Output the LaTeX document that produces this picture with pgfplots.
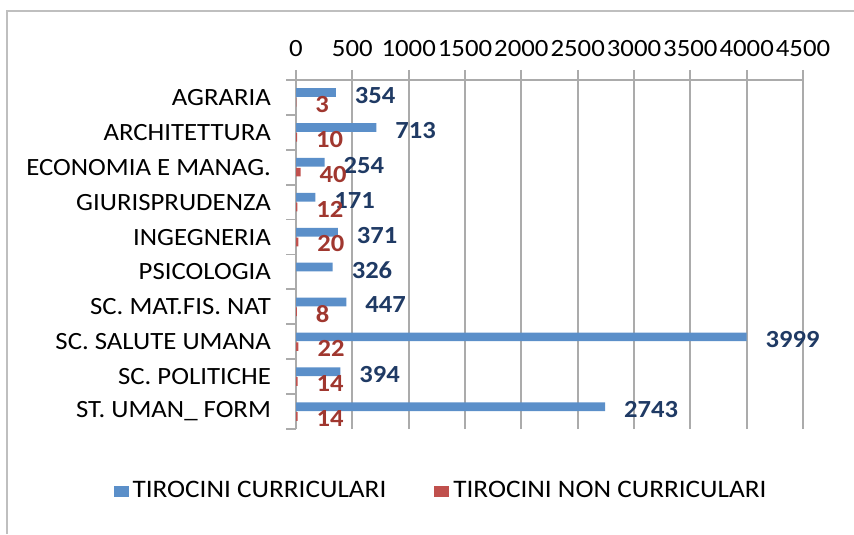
\documentclass[border=0pt]{standalone}
\usepackage{fontspec}
\setmainfont[FakeStretch=1.08]{Carlito}
\usepackage{pgfplots}
\pgfplotsset{compat=1.18}
\definecolor{barBlue}{HTML}{5B8FC9}
\definecolor{barRed}{HTML}{C0504D}
\definecolor{lblBlue}{HTML}{1F3A64}
\definecolor{lblRed}{HTML}{A0372F}
\definecolor{gridGray}{HTML}{ABABAB}
\definecolor{frameGray}{HTML}{BFBFBF}

\begin{document}
\begin{tikzpicture}
\path[use as bounding box] (0,0) rectangle (427pt,267pt);
\draw[frameGray, line width=1pt] (3.5pt,0) -- (3.5pt,261.5pt) -- (427pt,261.5pt);
\begin{axis}[
    at={(148pt,52.5pt)}, anchor=south west,
    scale only axis, width=253.5pt, height=174.5pt,
    xbar, bar width=0.25,
    xmin=0, xmax=4500, xtick distance=500,
    ymin=-0.5, ymax=9.5,
    ytick={-0.5,0.5,...,9.5}, yticklabels={},
    extra y ticks={0,...,9},
    extra y tick labels={ST. UMAN\_ FORM, SC. POLITICHE, SC. SALUTE UMANA, SC. MAT.FIS. NAT, PSICOLOGIA, INGEGNERIA, GIURISPRUDENZA, ECONOMIA E MANAG., ARCHITETTURA, AGRARIA},
    extra y tick style={major tick length=0pt, yticklabel style={xshift=-9pt}},
    axis x line*=top, axis y line*=left,
    tick align=outside, major tick length=5pt,
    axis line style={gridGray, line width=0.9pt},
    tick style={gridGray, line width=0.9pt},
    xmajorgrids, grid style={gridGray, line width=0.9pt},
    xticklabel style={font=\fontsize{12.4}{14}\selectfont, yshift=3pt},
    yticklabel style={font=\fontsize{12.4}{14}\selectfont},
    /pgf/number format/1000 sep={},
    /pgf/number format/assume math mode=true,
    point meta=x,
    legend style={at={(axis description cs:0.288,-0.178)}, anchor=center, draw=none,
        legend columns=2, font=\fontsize{12.6}{14}\selectfont,
        /tikz/every even column/.append style={column sep=22pt}},
]
\addplot[fill=barBlue, draw=none, bar shift=0.14,
    nodes near coords,
    every node near coord/.append style={font=\fontsize{12.3}{14}\selectfont\bfseries, text=lblBlue, xshift=6pt, yshift=-1.5pt},
    legend image code/.code={\fill[barBlue] (0pt,-2.75pt) rectangle (7.5pt,2.75pt);}]
coordinates {
    (2743,0) (394,1) (3999,2) (447,3) (326,4)
    (371,5) (171,6) (254,7) (713,8) (354,9)
};
\addplot[fill=barRed, draw=none, bar shift=-0.14,
    nodes near coords,
    every node near coord/.append style={font=\fontsize{12.3}{14}\selectfont\bfseries, text=lblRed, xshift=6pt, yshift=-1pt},
    legend image code/.code={\fill[barRed] (0pt,-2.75pt) rectangle (7.5pt,2.75pt);}]
coordinates {
    (14,0) (14,1) (22,2) (8,3)
    (20,5) (12,6) (40,7) (10,8) (3,9)
};
\legend{TIROCINI CURRICULARI, TIROCINI NON CURRICULARI}
\end{axis}
\end{tikzpicture}
\end{document}
